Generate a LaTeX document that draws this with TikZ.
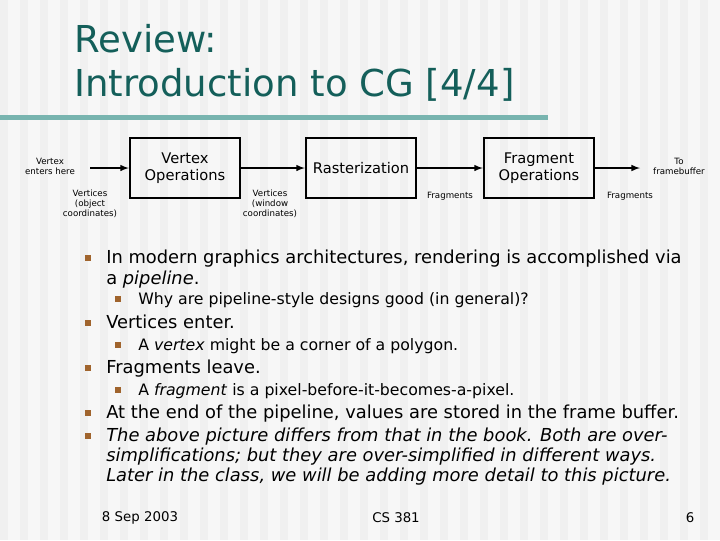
\documentclass[tikz,border=0pt]{standalone}
\usepackage{fontspec}
\setmainfont{DejaVu Sans}
\usetikzlibrary{positioning}
\definecolor{titleteal}{RGB}{20,95,90}
\definecolor{ruleteal}{RGB}{120,180,175}
\definecolor{bulletbrown}{RGB}{160,100,45}
\tikzset{
  stage/.style={draw, line width=1.8pt, minimum width=82.5pt, minimum height=45pt, font=\fontsize{11}{13}\selectfont, align=center},
  flow/.style={-latex, line width=1.2pt},
  tag/.style={font=\fontsize{6.5}{7.5}\selectfont, align=center},
  mainline/.style={anchor=base west, font=\fontsize{13.4}{15}\selectfont, inner sep=0pt},
  subline/.style={anchor=base west, font=\fontsize{11.8}{13}\selectfont, inner sep=0pt},
  bigsq/.style={fill=bulletbrown, minimum size=5pt, inner sep=0pt},
  smallsq/.style={fill=bulletbrown, minimum size=4.5pt, inner sep=0pt}
}
\begin{document}
\begin{tikzpicture}[x=0.75pt,y=-0.75pt]
\useasboundingbox (0,0) rectangle (720,540);
\fill[gray!6] (0,0) rectangle (720,540);
% stripes
\foreach \i in {0,...,35}
  \fill[gray!12] (\i*20,0) rectangle (\i*20+8,540);
\fill[ruleteal] (0,115) rectangle (548,120);
\node[anchor=base west, text=titleteal, font=\fontsize{27.8}{33}\selectfont, inner sep=0pt] (title1) at (74,52) {Review:};
\node[anchor=base west, text=titleteal, font=\fontsize{27.8}{33}\selectfont, inner sep=0pt] (title2) at (74,96) {Introduction to CG [4/4]};

% pipeline
\node[stage] (vops) at (185,168) {Vertex\\Operations};
\node[stage] (rast) at (361,168) {Rasterization};
\node[stage] (fops) at (539,168) {Fragment\\Operations};
\coordinate (inp) at (90,168);
\coordinate (outp) at (640,168);
\draw[flow] (inp) -- (vops);
\draw[flow] (vops) -- (rast);
\draw[flow] (rast) -- (fops);
\draw[flow] (fops) -- (outp);
\node[tag] (enter) at (50,166) {Vertex\\enters here};
\node[tag] (objv) at (90,204) {Vertices\\(object\\coordinates)};
\node[tag] (winv) at (270,204) {Vertices\\(window\\coordinates)};
\node[tag] (frag1) at (450,196) {Fragments};
\node[tag] (frag2) at (630,196) {Fragments};
\node[tag] (tofb) at (679,166) {To\\framebuffer};

% bullets
\foreach \y in {257,322,367,412,435}
  \node[bigsq] at (88,\y+1) {};
\foreach \y in {298,344,389}
  \node[smallsq] at (118,\y+1) {};
\node[mainline] (l1) at (106,263) {In modern graphics architectures, rendering is accomplished via};
\node[mainline] (l2) at (106,284) {a \textit{pipeline}.};
\node[subline] (s1) at (138,304) {Why are pipeline-style designs good (in general)?};
\node[mainline] (l3) at (106,328) {Vertices enter.};
\node[subline] (s2) at (138,350) {A \textit{vertex} might be a corner of a polygon.};
\node[mainline] (l4) at (106,373) {Fragments leave.};
\node[subline] (s3) at (138,395) {A \textit{fragment} is a pixel-before-it-becomes-a-pixel.};
\node[mainline] (l5) at (106,418) {At the end of the pipeline, values are stored in the frame buffer.};
\node[mainline, font=\fontsize{13.4}{15}\selectfont\itshape] (l6) at (106,441) {The above picture differs from that in the book. Both are over-};
\node[mainline, font=\fontsize{13.4}{15}\selectfont\itshape] (l7) at (106,461) {simplifications; but they are over-simplified in different ways.};
\node[mainline, font=\fontsize{13.4}{15}\selectfont\itshape] (l8) at (106,481) {Later in the class, we will be adding more detail to this picture.};

% footer
\node[font=\fontsize{10}{12}\selectfont] (date) at (140,518) {8 Sep 2003};
\node[font=\fontsize{10}{12}\selectfont] (course) at (396,518) {CS 381};
\node[font=\fontsize{10}{12}\selectfont] (page) at (690,518) {6};
\end{tikzpicture}
\end{document}
